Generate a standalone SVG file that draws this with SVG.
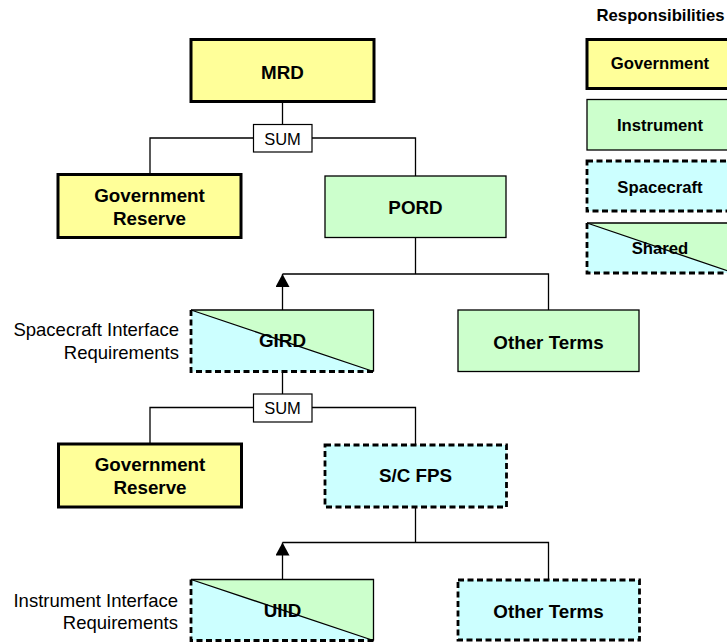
<svg xmlns="http://www.w3.org/2000/svg" width="727" height="644" viewBox="0 0 727 644">
<defs>
<style>
.gov{fill:#FFFF99;stroke:#000;stroke-width:3}
.ins{fill:#CCFFCC;stroke:#000;stroke-width:1.3}
.sc{fill:#CCFFFF;stroke:#000;stroke-width:2.8;stroke-dasharray:6 3.5}
.sum{fill:#fff;stroke:#000;stroke-width:1.2}
.fb{fill:#CCFFFF;stroke:none}
.fg{fill:#CCFFCC;stroke:none}
.solid{fill:none;stroke:#000;stroke-width:1.3}
.dash{fill:none;stroke:#000;stroke-width:2.8;stroke-dasharray:6 3.5}
.conn{fill:none;stroke:#000;stroke-width:1.3}
.lbl{font-family:"Liberation Sans",Arial,sans-serif;font-weight:bold;font-size:18.8px;text-anchor:middle;fill:#000}
.leg{font-family:"Liberation Sans",Arial,sans-serif;font-weight:bold;font-size:16.7px;text-anchor:middle;fill:#000}
.note{font-family:"Liberation Sans",Arial,sans-serif;font-size:18.5px;text-anchor:end;fill:#000}
.sumt{font-family:"Liberation Sans",Arial,sans-serif;font-size:16.5px;text-anchor:middle;fill:#000}
</style>
<marker id="arr" markerUnits="userSpaceOnUse" markerWidth="14" markerHeight="14" viewBox="0 0 14 14" refX="13" refY="7" orient="auto">
<path d="M0,0 L13,7 L0,14 z" fill="#000"/>
</marker>
</defs>

<g id="connectors">
<line class="conn" x1="282.5" y1="101.5" x2="282.5" y2="124.5"/>
<path class="conn" d="M253.5,138 H150 V174.5"/>
<path class="conn" d="M312,138 H415.5 V176"/>
<path class="conn" d="M415.5,237.5 V274"/>
<path class="conn" d="M282.5,274 H548.5 V310"/>
<line class="conn" x1="282.5" y1="310" x2="282.5" y2="274" marker-end="url(#arr)"/>
<line class="conn" x1="282.5" y1="371.5" x2="282.5" y2="394"/>
<path class="conn" d="M253.5,407.5 H150 V444"/>
<path class="conn" d="M312,407.5 H415.5 V445"/>
<path class="conn" d="M415.5,507 V542.5"/>
<path class="conn" d="M282.5,542.5 H548.5 V580"/>
<line class="conn" x1="282.5" y1="579.5" x2="282.5" y2="542.5" marker-end="url(#arr)"/>
</g>

<g id="mrd">
<rect class="gov" x="191" y="39.5" width="183" height="62"/>
<text class="lbl" x="282.5" y="78.5">MRD</text>
</g>

<g id="sum1">
<rect class="sum" x="253.5" y="124.5" width="58.5" height="27.5"/>
<text class="sumt" x="282.5" y="144.5">SUM</text>
</g>

<g id="govreserve1">
<rect class="gov" x="58" y="174.5" width="183" height="63"/>
<text class="lbl" x="149.5" y="201.5">Government</text>
<text class="lbl" x="149.5" y="225">Reserve</text>
</g>

<g id="pord">
<rect class="ins" x="325" y="176" width="181" height="61.5"/>
<text class="lbl" x="415.5" y="213.5">PORD</text>
</g>

<g id="gird">
<polygon class="fb" points="191,310 191,371.5 373.5,371.5"/>
<polygon class="fg" points="191,310 373.5,310 373.5,371.5"/>
<path class="solid" d="M191,310 H373.5 V371.5"/>
<path class="dash" d="M191,310 V371.5 H373.5"/>
<line class="solid" x1="191" y1="310" x2="373.5" y2="371.5"/>
<text class="lbl" x="282.5" y="347">GIRD</text>
</g>

<g id="note1">
<text class="note" x="179" y="335.5">Spacecraft Interface</text>
<text class="note" x="179" y="359">Requirements</text>
</g>

<g id="otherterms1">
<rect class="ins" x="458" y="310" width="181" height="61.5"/>
<text class="lbl" x="548.5" y="348.5">Other Terms</text>
</g>

<g id="sum2">
<rect class="sum" x="253.5" y="394" width="58.5" height="28"/>
<text class="sumt" x="282.5" y="414">SUM</text>
</g>

<g id="govreserve2">
<rect class="gov" x="58.5" y="444" width="183" height="63"/>
<text class="lbl" x="150" y="470.5">Government</text>
<text class="lbl" x="150" y="494">Reserve</text>
</g>

<g id="scfps">
<rect class="sc" x="325" y="445" width="181.5" height="62"/>
<text class="lbl" x="415.5" y="481.5">S/C FPS</text>
</g>

<g id="uiid">
<polygon class="fb" points="191,579.5 191,640.5 373.5,640.5"/>
<polygon class="fg" points="191,579.5 373.5,579.5 373.5,640.5"/>
<path class="solid" d="M191,579.5 H373.5 V640.5"/>
<path class="dash" d="M191,579.5 V640.5 H373.5"/>
<line class="solid" x1="191" y1="579.5" x2="373.5" y2="640.5"/>
<text class="lbl" x="282.5" y="617">UIID</text>
</g>

<g id="note2">
<text class="note" x="178" y="606.5">Instrument Interface</text>
<text class="note" x="178" y="628.5">Requirements</text>
</g>

<g id="otherterms2">
<rect class="sc" x="458" y="580" width="181.5" height="60"/>
<text class="lbl" x="548.5" y="618">Other Terms</text>
</g>

<g id="legend">
<text class="leg" x="660.5" y="20.5">Responsibilities</text>
<g id="leg-gov">
<rect class="gov" x="587" y="39.5" width="147" height="49"/>
<text class="leg" x="660" y="68.5">Government</text>
</g>
<g id="leg-ins">
<rect class="ins" x="587" y="99.5" width="147" height="50.5"/>
<text class="leg" x="660" y="130.5">Instrument</text>
</g>
<g id="leg-sc">
<rect class="sc" x="587" y="161" width="147" height="50"/>
<text class="leg" x="660" y="192.5">Spacecraft</text>
</g>
<g id="leg-shared">
<polygon class="fb" points="587,223 587,273 734,273"/>
<polygon class="fg" points="587,223 734,223 734,273"/>
<path class="solid" d="M587,223 H734 V273"/>
<path class="dash" d="M587,223 V273 H734"/>
<line class="solid" x1="587" y1="223" x2="734" y2="273"/>
<text class="leg" x="660" y="253.5">Shared</text>
</g>
</g>
</svg>
